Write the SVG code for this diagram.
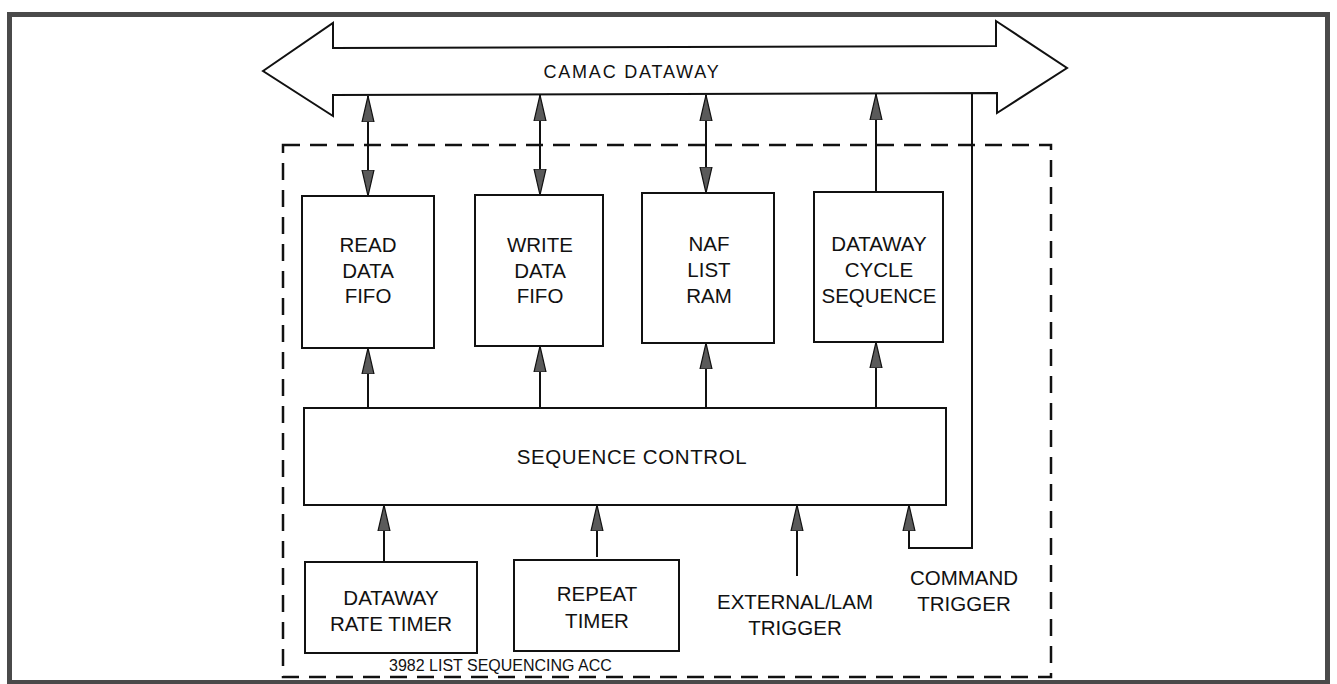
<svg xmlns="http://www.w3.org/2000/svg" width="1337" height="684" viewBox="0 0 1337 684">
  <defs>
    <marker id="ah" viewBox="0 0 14 26" refX="7" refY="0" markerWidth="14" markerHeight="26" markerUnits="userSpaceOnUse" orient="auto-start-reverse">
      <path d="M7,0 L13,26 L1,26 Z" fill="#5a5a5a" stroke="#111" stroke-width="1.2" stroke-linejoin="miter" transform="rotate(0)"/>
    </marker>
    <marker id="arr" viewBox="0 0 26 14" refX="26" refY="7" markerWidth="26" markerHeight="14" markerUnits="userSpaceOnUse" orient="auto-start-reverse">
      <path d="M26,7 L0,1 L0,13 Z" fill="#5a5a5a" stroke="#111" stroke-width="1.2"/>
    </marker>
    <style>
      .frame { fill: none; stroke: #4a4a4a; stroke-width: 5; }
      .box { fill: #fff; stroke: #111; stroke-width: 2; }
      .bus { fill: #fff; stroke: #111; stroke-width: 2; stroke-linejoin: miter; }
      .dash { fill: none; stroke: #111; stroke-width: 2.5; stroke-dasharray: 17 10; }
      .wire { fill: none; stroke: #111; stroke-width: 2; }
      .t { font-family: "Liberation Sans", Arial, sans-serif; font-size: 20.5px; fill: #111; text-anchor: middle; }
      .s { font-family: "Liberation Sans", Arial, sans-serif; font-size: 16px; fill: #111; }
      .bus-t { font-family: "Liberation Sans", Arial, sans-serif; font-size: 18px; fill: #111; text-anchor: middle; letter-spacing: 1.8px; }
    </style>
  </defs>

  <rect width="1337" height="684" fill="#fff"/>
  <rect class="frame" x="9.5" y="14.5" width="1318" height="668"/>

  <g id="camac-dataway">
    <polygon class="bus" points="263,71 333,23 333,48 996,46 996,21 1067,68 997,113 997,93 333,95 333,116"/>
    <text class="bus-t" x="632" y="78">CAMAC DATAWAY</text>
  </g>

  <g id="module-boundary">
    <rect class="dash" x="283" y="145" width="768" height="532"/>
    <text class="s" x="389" y="671">3982 LIST SEQUENCING ACC</text>
  </g>

  <g id="read-data-fifo">
    <rect class="box" x="302" y="196" width="132" height="152"/>
    <text class="t" x="368" y="252">READ</text>
    <text class="t" x="368" y="278">DATA</text>
    <text class="t" x="368" y="303">FIFO</text>
  </g>

  <g id="write-data-fifo">
    <rect class="box" x="475" y="195" width="128" height="151"/>
    <text class="t" x="540" y="252">WRITE</text>
    <text class="t" x="540" y="278">DATA</text>
    <text class="t" x="540" y="303">FIFO</text>
  </g>

  <g id="naf-list-ram">
    <rect class="box" x="642" y="193" width="132" height="150"/>
    <text class="t" x="709" y="251">NAF</text>
    <text class="t" x="709" y="277">LIST</text>
    <text class="t" x="709" y="303">RAM</text>
  </g>

  <g id="dataway-cycle-sequence">
    <rect class="box" x="814" y="192" width="129" height="150"/>
    <text class="t" x="879" y="251">DATAWAY</text>
    <text class="t" x="879" y="277">CYCLE</text>
    <text class="t" x="879" y="303">SEQUENCE</text>
  </g>

  <g id="sequence-control">
    <rect class="box" x="304" y="408" width="642" height="97"/>
    <text class="t" x="632" y="464" style="letter-spacing:0.6px">SEQUENCE CONTROL</text>
  </g>

  <g id="dataway-rate-timer">
    <rect class="box" x="305" y="562" width="172" height="91"/>
    <text class="t" x="391" y="605">DATAWAY</text>
    <text class="t" x="391" y="631">RATE TIMER</text>
  </g>

  <g id="repeat-timer">
    <rect class="box" x="514" y="560" width="165" height="91"/>
    <text class="t" x="597" y="601">REPEAT</text>
    <text class="t" x="597" y="628">TIMER</text>
  </g>

  <g id="external-lam-trigger">
    <text class="t" x="795" y="609">EXTERNAL/LAM</text>
    <text class="t" x="795" y="635">TRIGGER</text>
  </g>

  <g id="command-trigger">
    <text class="t" x="964" y="585">COMMAND</text>
    <text class="t" x="964" y="611">TRIGGER</text>
  </g>

  <g id="connectors">
    <line class="wire" x1="368" y1="96" x2="368" y2="196" marker-start="url(#arr)" marker-end="url(#arr)"/>
    <line class="wire" x1="540" y1="95" x2="540" y2="195" marker-start="url(#arr)" marker-end="url(#arr)"/>
    <line class="wire" x1="706" y1="95" x2="706" y2="193" marker-start="url(#arr)" marker-end="url(#arr)"/>
    <line class="wire" x1="876" y1="192" x2="876" y2="94" marker-end="url(#arr)"/>

    <line class="wire" x1="368" y1="408" x2="368" y2="348" marker-end="url(#arr)"/>
    <line class="wire" x1="540" y1="408" x2="540" y2="346" marker-end="url(#arr)"/>
    <line class="wire" x1="706" y1="408" x2="706" y2="343" marker-end="url(#arr)"/>
    <line class="wire" x1="876" y1="408" x2="876" y2="342" marker-end="url(#arr)"/>

    <line class="wire" x1="384" y1="562" x2="384" y2="505" marker-end="url(#arr)"/>
    <line class="wire" x1="597" y1="557" x2="597" y2="505" marker-end="url(#arr)"/>
    <line class="wire" x1="797" y1="576" x2="797" y2="505" marker-end="url(#arr)"/>
    <polyline class="wire" points="972,94 972,548 909,548 909,505" marker-end="url(#arr)"/>
  </g>
</svg>
